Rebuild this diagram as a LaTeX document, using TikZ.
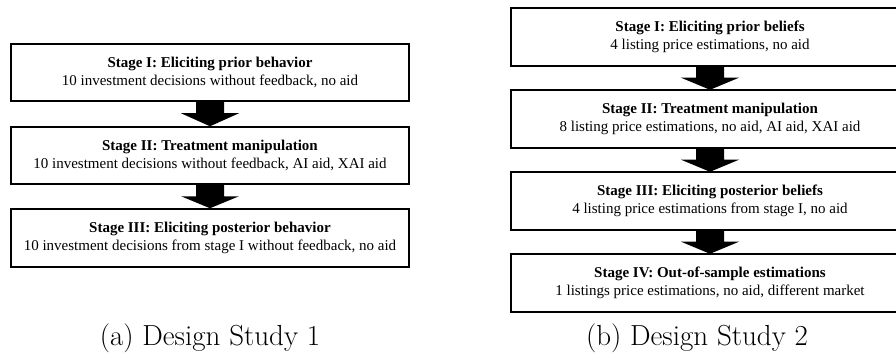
\documentclass[tikz,border=0pt]{standalone}
\usepackage{fontspec}
\newfontfamily\boxfont{Liberation Serif}
\usetikzlibrary{calc}
\tikzset{
  stagetext/.style={rectangle, minimum width=398pt, inner sep=0pt, align=center,
    font=\boxfont\fontsize{15}{18}\selectfont},
  stagebox/.style={stagetext, draw=black, line width=1.5pt, fill=white},
  openborder/.style={draw=black, line width=1.5pt},
  bigarrowfill/.style={fill=black},
  captiontext/.style={anchor=base, inner sep=0pt, font=\fontsize{29}{34}\selectfont}
}
\newcommand{\stagearrow}[2]{%
  \fill[bigarrowfill] ($(#1.south)+(-14pt,0)$) -- ($(#1.south)+(-14pt,-11.5pt)$) --
    ($(#1.south)+(-29pt,-11.5pt)$) -- (#2.north) -- ($(#1.south)+(29pt,-11.5pt)$) --
    ($(#1.south)+(14pt,-11.5pt)$) -- ($(#1.south)+(14pt,0)$) -- cycle;}
\newcommand{\openbox}[1]{%
  \draw[openborder] ($(#1.north east)+(2pt,0)$) -- (#1.north west) -- (#1.south west) -- ($(#1.south east)+(2pt,0)$);}
\begin{document}
\begin{tikzpicture}[x=1pt,y=-1pt]
\useasboundingbox (0,0) rectangle (896,358);
\clip (0,0) rectangle (896,358);
\fill[white] (0,0) rectangle (896,358);
% Left: Design Study 1
\node[stagebox, minimum height=57pt] (a1) at (210,72.5)
  {\textbf{Stage I: Eliciting prior behavior}\\10 investment decisions without feedback, no aid};
\node[stagebox, minimum height=57pt] (a2) at (210,155.5)
  {\textbf{Stage II: Treatment manipulation}\\10 investment decisions without feedback, AI aid, XAI aid};
\node[stagebox, minimum height=58pt] (a3) at (210,238)
  {\textbf{Stage III: Eliciting posterior behavior}\\10 investment decisions from stage I without feedback, no aid};
\stagearrow{a1}{a2}
\stagearrow{a2}{a3}
\node[captiontext] (capa) at (210,345) {(a) Design Study 1};
% Right: Design Study 2 (boxes run past the right edge)
\node[stagetext, minimum height=58pt] (b1) at (710,37)
  {\textbf{Stage I: Eliciting prior beliefs}\\4 listing price estimations, no aid};
\node[stagetext, minimum height=58pt] (b2) at (710,119)
  {\textbf{Stage II: Treatment manipulation}\\8 listing price estimations, no aid, AI aid, XAI aid};
\node[stagetext, minimum height=58pt] (b3) at (710,201)
  {\textbf{Stage III: Eliciting posterior beliefs}\\4 listing price estimations from stage I, no aid};
\node[stagetext, minimum height=58pt] (b4) at (710,283)
  {\textbf{Stage IV: Out-of-sample estimations}\\1 listings price estimations, no aid, different market};
\openbox{b1}
\openbox{b2}
\openbox{b3}
\openbox{b4}
\stagearrow{b1}{b2}
\stagearrow{b2}{b3}
\stagearrow{b3}{b4}
\node[captiontext] (capb) at (697,345) {(b) Design Study 2};
\end{tikzpicture}
\end{document}
